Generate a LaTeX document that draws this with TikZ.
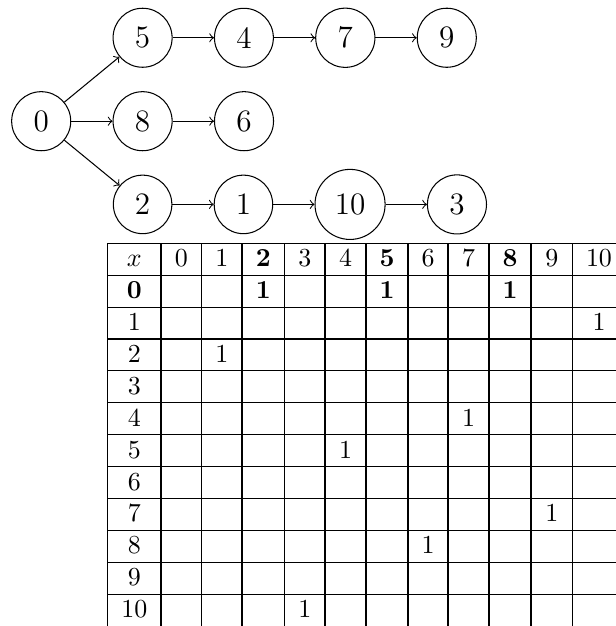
\documentclass[tikz,border=0pt]{standalone}
\usepackage{amsmath}
\usepackage{amssymb}
\usetikzlibrary{positioning}

\begin{document}
\begin{tikzpicture}[
    x=0.385pt, y=-0.385pt,
    node distance=15.9pt,
    vertex/.style={circle, draw, inner sep=4.5pt, font=\large},
    cell/.style={anchor=base, inner sep=0pt}
]

\useasboundingbox (0,0) rectangle (616,626);
\clip (0,0) rectangle (616,626);

% Root node
\node[vertex] (n0) at (41.2,121.2) {0};

% Middle chain
\node[vertex, right=of n0] (n8) {8};
\node[vertex, right=of n8] (n6) {6};

% Top chain
\node[vertex, above=9pt of n8] (n5) {5};
\node[vertex, right=of n5] (n4) {4};
\node[vertex, right=of n4] (n7) {7};
\node[vertex, right=of n7] (n9) {9};

% Bottom chain
\node[vertex, below=9pt of n8] (n2) {2};
\node[vertex, right=of n2] (n1) {1};
\node[vertex, right=of n1] (n10) {10};
\node[vertex, right=of n10] (n3) {3};

% Edges
\draw[->] (n0) -- (n5);
\draw[->] (n0) -- (n8);
\draw[->] (n0) -- (n2);
\draw[->] (n5) -- (n4);
\draw[->] (n4) -- (n7);
\draw[->] (n7) -- (n9);
\draw[->] (n8) -- (n6);
\draw[->] (n2) -- (n1);
\draw[->] (n1) -- (n10);
\draw[->] (n10) -- (n3);

% Table grid
\foreach \x in {107.5,161,201.5,242,284.5,325,366,408,448,489,531,572.7,623}
    \draw (\x,243.3) -- (\x,630);
\foreach \k in {0,...,12}
    \draw (107.5,{243.3+31.9*\k}) -- (630,{243.3+31.9*\k});

% Header row
\node[cell] (hx) at (134.25,266.7) {$x$};
\foreach \cx/\t [count=\i from 0] in {181.25/0, 221.75/1, 263.25/\textbf{2},
    304.75/3, 345.5/4, 387/\textbf{5}, 428/6, 468.5/7, 510/\textbf{8},
    551.85/9, 599/10}
    \node[cell] (h\i) at (\cx,266.7) {\t};

% Row labels
\foreach \t [count=\i from 1] in {\textbf{0},1,2,3,4,5,6,7,8,9,10}
    \node[cell] (r\i) at (134.25,{266.7+31.9*\i}) {\t};

% Entries
\foreach \r/\cx/\t [count=\i] in {0/263.25/\textbf{1}, 0/387/\textbf{1},
    0/510/\textbf{1}, 1/599/1, 2/221.75/1, 4/468.5/1, 5/345.5/1,
    7/551.85/1, 8/428/1, 10/304.75/1}
    \node[cell] (e\i) at (\cx,{266.7+31.9*(\r+1)}) {\t};

\end{tikzpicture}
\end{document}
